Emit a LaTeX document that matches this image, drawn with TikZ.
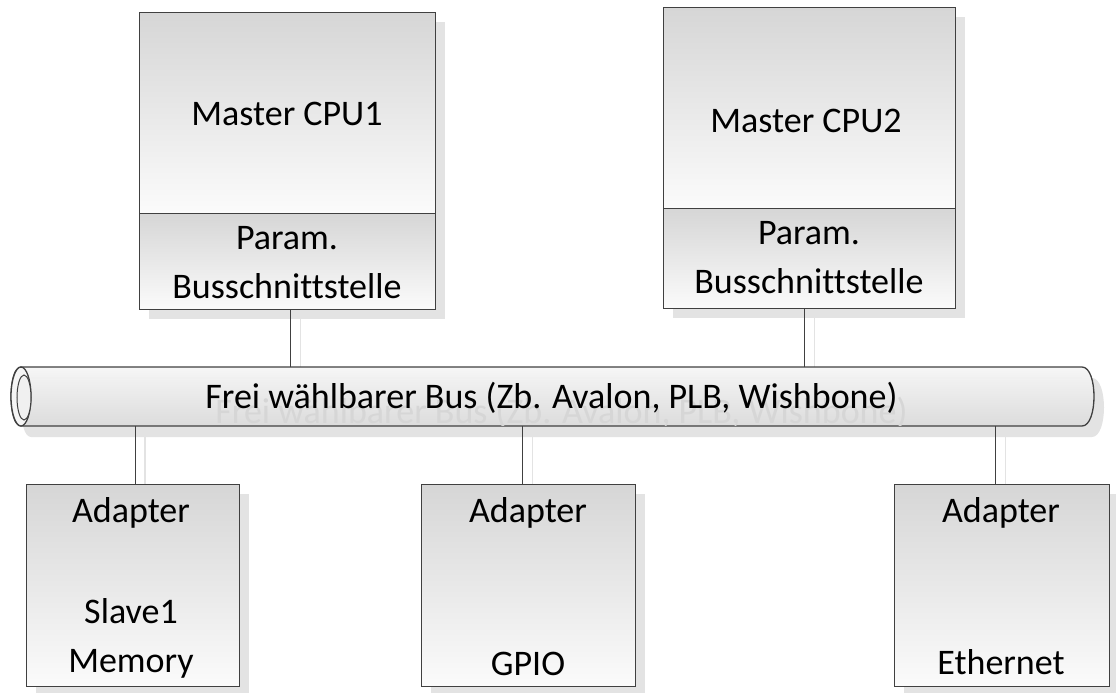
\documentclass[tikz,border=0pt]{standalone}
\usepackage{fontspec}
\setmainfont[RawFeature={-liga}]{Carlito}
\definecolor{linec}{HTML}{404040}
\definecolor{shadowc}{HTML}{E3E3E3}
\definecolor{topc}{HTML}{D6D6D6}
\definecolor{botc}{HTML}{FBFBFB}
\definecolor{ghostc}{HTML}{D6D6D6}
\definecolor{bustop}{HTML}{F6F6F6}
\definecolor{busbot}{HTML}{DCDCDC}
\tikzset{
  box/.style={draw=linec, line width=1.3pt, top color=topc, bottom color=botc, inner sep=0pt, anchor=north west},
  lbl/.style={font=\fontsize{36}{48}\selectfont, text=black, anchor=base, inner sep=0pt},
  conn/.style={draw=linec, line width=1pt},
  connshadow/.style={draw=shadowc, line width=1.6pt},
}
\begin{document}
\begin{tikzpicture}[x=1pt,y=-1pt]
\useasboundingbox (0,0) rectangle (1116,693);
% bus reference coordinates
\coordinate (bustopline) at (0,367);
\coordinate (busbotline) at (0,426);
\coordinate (busshadowbot) at (0,437);

% ---------- shadows ----------
\fill[shadowc] (149,22) rectangle (445,319);
\fill[shadowc] (673,17) rectangle (965,318);
\fill[shadowc] (36,494) rectangle (249,696);
\fill[shadowc] (431,494) rectangle (645,696);
\fill[shadowc] (904,494) rectangle (1119,696);
\fill[shadowc] (31,378) -- (1092,378) .. controls (1108,378) and (1108,437) .. (1092,437) -- (31,437) .. controls (17.7,437) and (17.7,378) .. (31,378) -- cycle;

% ---------- boxes ----------
\node[box, minimum width=296pt, minimum height=201pt] (cpu1top) at (139,12) {};
\node[box, minimum width=296pt, minimum height=96pt] (cpu1bot) at (139,213) {};
\node[box, minimum width=292pt, minimum height=201pt] (cpu2top) at (663,7) {};
\node[box, minimum width=292pt, minimum height=100pt] (cpu2bot) at (663,208) {};
\node[box, minimum width=213pt, minimum height=202pt] (mem) at (26,484) {};
\node[box, minimum width=214pt, minimum height=202pt] (gpio) at (421,484) {};
\node[box, minimum width=215pt, minimum height=202pt] (eth) at (894,484) {};

% ---------- connector shadows ----------
\draw[connshadow] ([xshift=13pt]cpu1bot.south) -- ([xshift=13pt]cpu1bot.south |- bustopline);
\draw[connshadow] ([xshift=5pt]cpu2bot.south) -- ([xshift=5pt]cpu2bot.south |- bustopline);
\draw[connshadow] ([xshift=12pt]mem.north) -- ([xshift=12pt]mem.north |- busshadowbot);
\draw[connshadow] ([xshift=4pt]gpio.north) -- ([xshift=4pt]gpio.north |- busshadowbot);
\draw[connshadow] ([xshift=3.5pt]eth.north) -- ([xshift=3.5pt]eth.north |- busshadowbot);

% ---------- bus ----------
\path[top color=bustop, bottom color=busbot, draw=linec, line width=1.3pt]
  (21,367) -- (1082,367) .. controls (1098,367) and (1098,426) .. (1082,426) -- (21,426)
  .. controls (7.7,426) and (7.7,367) .. (21,367) -- cycle;
\draw[white!88!gray, line width=1.5pt] (31,378) -- (1082,378);
\begin{scope}
  \clip (21,368) rectangle (1085,425);
  \node[lbl, text=ghostc] (busghost) at (561.5,423) {Frei wählbarer Bus (Zb. Avalon, PLB, Wishbone)};
\end{scope}
\draw[linec, line width=1.3pt, fill=white!92!gray] (21,396.5) ellipse[x radius=10, y radius=29.5];
\draw[linec, line width=1pt, fill=white!88!gray] (24,397.5) ellipse[x radius=7, y radius=22.5];
\node[lbl] (bustext) at (551.5,408) {Frei wählbarer Bus (Zb. Avalon, PLB, Wishbone)};

% ---------- connectors ----------
\draw[conn] ([xshift=3pt]cpu1bot.south) -- ([xshift=3pt]cpu1bot.south |- bustopline);
\draw[conn] ([xshift=-5pt]cpu2bot.south) -- ([xshift=-5pt]cpu2bot.south |- bustopline);
\draw[conn] ([xshift=2.5pt]mem.north) -- ([xshift=2.5pt]mem.north |- busbotline);
\draw[conn] ([xshift=-6pt]gpio.north) -- ([xshift=-6pt]gpio.north |- busbotline);
\draw[conn] ([xshift=-6.5pt]eth.north) -- ([xshift=-6.5pt]eth.north |- busbotline);

% ---------- texts ----------
\node[lbl] (t1) at (287,125) {Master CPU1};
\node[lbl] (t2) at (287,249) {Param.};
\node[lbl] (t3) at (287,298) {Busschnittstelle};
\node[lbl] (t4) at (806,132) {Master CPU2};
\node[lbl] (t5) at (809,244) {Param.};
\node[lbl] (t6) at (809,293) {Busschnittstelle};
\node[lbl] (t7) at (131,522) {Adapter};
\node[lbl] (t8) at (131,623) {Slave1};
\node[lbl] (t9) at (131,672) {Memory};
\node[lbl] (t10) at (528,522) {Adapter};
\node[lbl] (t11) at (528,675) {GPIO};
\node[lbl] (t12) at (1001,522) {Adapter};
\node[lbl] (t13) at (1001,674) {Ethernet};
\end{tikzpicture}
\end{document}
